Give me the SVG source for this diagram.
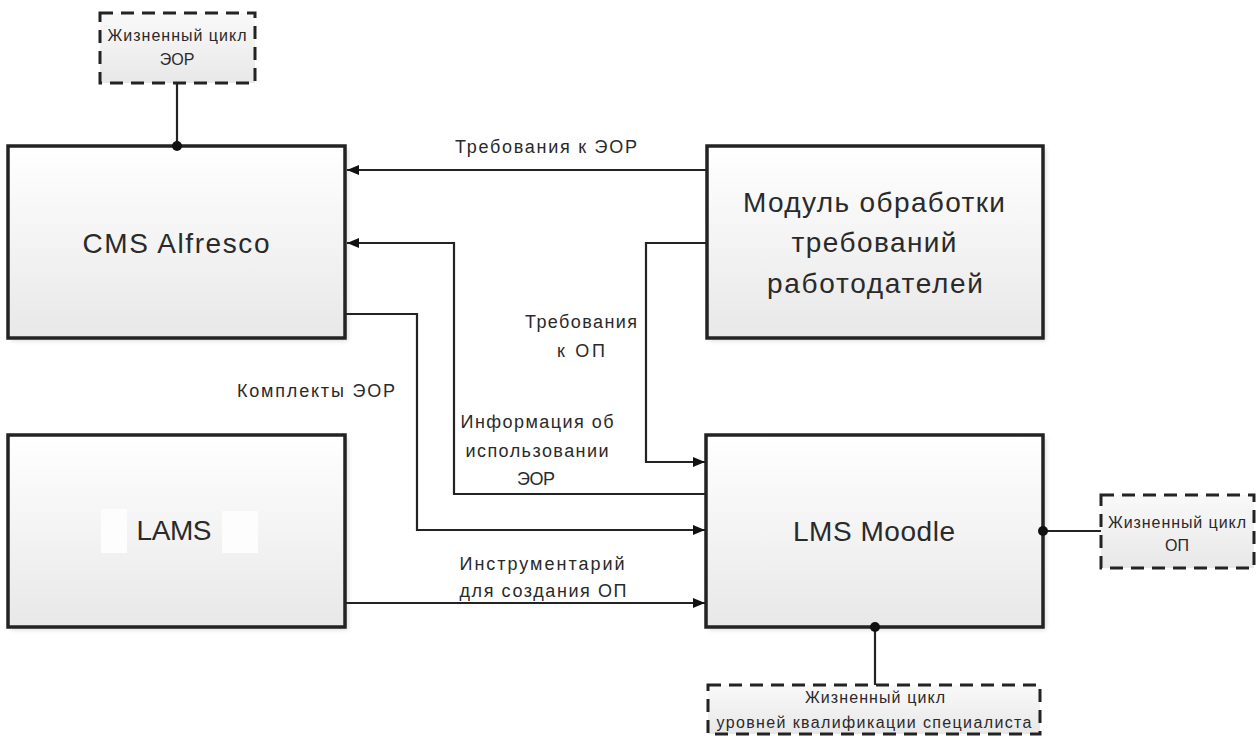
<svg xmlns="http://www.w3.org/2000/svg" width="1256" height="736" viewBox="0 0 1256 736">
<style>
.box{fill:url(#g1);stroke:#232323;stroke-width:3.5}
.dbox{fill:url(#g2);stroke:#232323;stroke-width:3;stroke-dasharray:13 8}
.sh{fill:#bdbdbd;opacity:.5;filter:url(#blur)}
.big{font-family:"Liberation Sans",Arial,sans-serif;font-size:28px;fill:#2a2a2a;text-anchor:middle}
.lbl{font-family:"Liberation Sans",Arial,sans-serif;font-size:18px;fill:#2a2a2a;text-anchor:middle}
.sm{font-family:"Liberation Sans",Arial,sans-serif;font-size:16px;fill:#2a2a2a;text-anchor:middle}
.ln{fill:none;stroke:#232323;stroke-width:2.2}
.dot{fill:#111}
</style>
<defs>
<linearGradient id="g1" x1="0" y1="0" x2="0" y2="1"><stop offset="0" stop-color="#ffffff"/><stop offset="1" stop-color="#e8e8e8"/></linearGradient>
<linearGradient id="g2" x1="0" y1="0" x2="0" y2="1"><stop offset="0" stop-color="#f9f9f9"/><stop offset="1" stop-color="#e8e8e8"/></linearGradient>
<filter id="blur" x="-5%" y="-5%" width="110%" height="110%"><feGaussianBlur stdDeviation="2"/></filter>
<marker id="arr" viewBox="0 0 12 10" refX="12" refY="5" markerWidth="12" markerHeight="10" markerUnits="userSpaceOnUse" orient="auto"><path d="M0,0 L12,5 L0,10 Z" fill="#111"/></marker>
</defs>
<rect width="1256" height="736" fill="#ffffff"/>

<g id="lc-eor">
<rect class="dbox" x="100" y="13" width="155" height="70"/>
<text class="sm" x="177" y="41" textLength="139">Жизненный цикл</text>
<text class="sm" x="177" y="65">ЭОР</text>
</g>

<g id="cms">
<rect class="sh" x="11" y="149" width="337" height="192"/>
<rect class="box" x="8" y="146" width="337" height="192"/>
<text class="big" x="176" y="253" textLength="187">CMS Alfresco</text>
</g>

<g id="module">
<rect class="sh" x="710" y="149" width="336" height="192"/>
<rect class="box" x="707" y="146" width="336" height="192"/>
<text class="big" x="874" y="212" textLength="262">Модуль обработки</text>
<text class="big" x="874" y="252" textLength="165">требований</text>
<text class="big" x="875" y="293" textLength="216">работодателей</text>
</g>

<g id="lams">
<rect class="sh" x="11" y="438" width="337" height="192"/>
<rect class="box" x="8" y="435" width="337" height="192"/>
<rect x="101" y="509" width="26" height="44" fill="#fdfdfd"/>
<rect x="222" y="511" width="36" height="42" fill="#fdfdfd"/>
<text class="big" x="174" y="540" textLength="75">LAMS</text>
</g>

<g id="moodle">
<rect class="sh" x="709" y="438" width="337" height="192"/>
<rect class="box" x="706" y="435" width="337" height="192"/>
<text class="big" x="874" y="541" textLength="162">LMS Moodle</text>
</g>

<g id="lc-op">
<rect class="dbox" x="1101" y="495" width="153" height="73"/>
<text class="sm" x="1177" y="528" textLength="138">Жизненный цикл</text>
<text class="sm" x="1177" y="551">ОП</text>
</g>

<g id="lc-qual">
<rect class="dbox" x="708" y="685" width="332" height="49"/>
<text class="sm" x="875" y="703" textLength="140">Жизненный цикл</text>
<text class="sm" x="874" y="728" textLength="315">уровней квалификации специалиста</text>
</g>

<g id="connectors">
<path class="ln" d="M707,170 H347" marker-end="url(#arr)"/>
<path class="ln" d="M707,494 H454 V243 H347" marker-end="url(#arr)"/>
<path class="ln" d="M345,314 H417 V530 H705" marker-end="url(#arr)"/>
<path class="ln" d="M707,243 H646 V462 H705" marker-end="url(#arr)"/>
<path class="ln" d="M345,603 H705" marker-end="url(#arr)"/>
<path class="ln" d="M177,83 V146"/>
<circle class="dot" cx="177" cy="146" r="5"/>
<path class="ln" d="M1043,531 H1101"/>
<circle class="dot" cx="1043" cy="531" r="5"/>
<path class="ln" d="M875,627 V685"/>
<circle class="dot" cx="875" cy="627" r="5"/>
</g>

<g id="labels">
<text class="lbl" x="546" y="153" textLength="182">Требования к ЭОР</text>
<text class="lbl" x="581" y="328" textLength="112">Требования</text>
<text class="lbl" x="581" y="357" textLength="48">к ОП</text>
<text class="lbl" x="316" y="397" textLength="158">Комплекты ЭОР</text>
<text class="lbl" x="537" y="428" textLength="153">Информация об</text>
<text class="lbl" x="537" y="457" textLength="143">использовании</text>
<text class="lbl" x="536" y="485" textLength="38">ЭОР</text>
<text class="lbl" x="542" y="570" textLength="165">Инструментарий</text>
<text class="lbl" x="543" y="597" textLength="167">для создания ОП</text>
</g>
</svg>
